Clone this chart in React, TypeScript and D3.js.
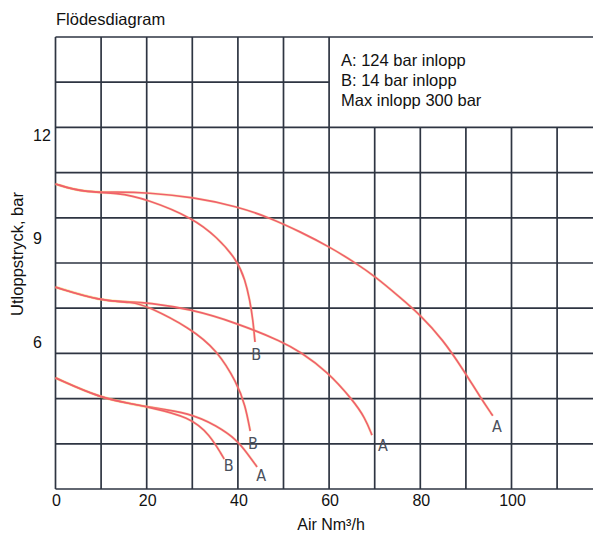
import React from 'react';
import * as d3 from 'd3';

// Flow curves: [air Nm³/h, outlet bar]
const upperA: [number, number][] = [
  [0, 10.58], [6, 10.34], [13.5, 10.35], [20.1, 10.33], [30.2, 10.2], [39.8, 9.93],
  [47, 9.6], [53.6, 9.2], [60.2, 8.75], [65.7, 8.3], [70.1, 7.9], [75.5, 7.3],
  [79.9, 6.8], [85, 6.06], [89.4, 5.2], [93.1, 4.41], [95.9, 3.86],
];
const upperB: [number, number][] = [
  [0, 10.58], [6, 10.34], [13.5, 10.33], [20.1, 10.14], [30.2, 9.59], [35.4, 9.04],
  [39.8, 8.38], [41.6, 7.8], [42.6, 7.22], [43.3, 6.64], [43.75, 6.0],
];
const middleA: [number, number][] = [
  [0, 7.59], [9.8, 7.19], [17, 7.16], [20.1, 7.14], [29.5, 6.96], [39.8, 6.55],
  [49.9, 6.0], [53.6, 5.72], [59.5, 5.16], [65.2, 4.32], [67.9, 3.8], [69.4, 3.3],
];
const middleB: [number, number][] = [
  [0, 7.59], [9.8, 7.19], [17, 7.16], [20.1, 7.04], [29.5, 6.41], [35.4, 5.77],
  [39.8, 4.81], [41.6, 4.17], [42.7, 3.42],
];
const lowerA: [number, number][] = [
  [0, 4.96], [9.8, 4.38], [17, 4.2], [20.1, 4.12], [29.5, 3.94], [35.4, 3.57],
  [39.8, 3.16], [42, 2.78], [44.2, 2.38],
];
const lowerB: [number, number][] = [
  [0, 4.96], [9.8, 4.38], [17, 4.2], [20.1, 4.12], [29.5, 3.83], [33.9, 3.3],
  [36.5, 2.72], [37, 2.61],
];

const curves = [
  { name: 'A', points: upperA, label: [96.8, 3.54] },
  { name: 'B', points: upperB, label: [44.0, 5.65] },
  { name: 'A', points: middleA, label: [71.8, 3.01] },
  { name: 'B', points: middleB, label: [43.3, 3.07] },
  { name: 'A', points: lowerA, label: [45.1, 2.12] },
  { name: 'B', points: lowerB, label: [38.0, 2.41] },
];

const xTicks = [0, 20, 40, 60, 80, 100];
const yTicks = [12, 9, 6];
const legendLines = ['A: 124 bar inlopp', 'B: 14 bar inlopp', 'Max inlopp 300 bar'];

const width = 593;
const height = 534;
const font = 'Liberation Sans, Arial, sans-serif';
const gridColor = '#2e3542';
const curveColor = '#f0606c';

export default function App() {
  const x = d3.scaleLinear().domain([0, 100]).range([55.5, 511.5]);
  // axis labels on the original sit on their own scale, not on the grid rows
  const y = d3.scaleLinear().domain([6, 12]).range([342, 135]);
  const row = d3.scaleLinear().domain([0, 10]).range([489, 37]);

  const line = d3.line<[number, number]>()
    .x(d => x(d[0]))
    .y(d => y(d[1]))
    .curve(d3.curveBasis);

  const colValues = d3.range(0, 111, 10);
  const rowValues = d3.range(0, 11);
  const boxLeft = x(60);

  return (
    <div style={{ position: 'absolute', left: 0, top: 0 }}>
      <svg width={width} height={height} style={{ display: 'block', background: '#fff' }}>
        <text x={56} y={25} fontFamily={font} fontSize={16.5} fill="#111">Flödesdiagram</text>

        {/* grid, with the legend box cut out of the top right */}
        <g stroke={gridColor} strokeWidth={1.7}>
          {colValues.map(v => (
            <line key={'c' + v} x1={x(v)} x2={x(v)}
              y1={v > 60 ? row(8) : row(10)} y2={row(0)} />
          ))}
          {rowValues.map(r => (
            <line key={'r' + r} x1={x(0)} x2={r === 9 ? boxLeft : width}
              y1={row(r)} y2={row(r)} />
          ))}
        </g>

        {/* legend */}
        {legendLines.map((t, i) => (
          <text key={t} x={341} y={66 + i * 20} fontFamily={font} fontSize={16.5} fill="#111">{t}</text>
        ))}

        {/* curves */}
        {curves.map((c, i) => (
          <g key={i}>
            <path d={line(c.points) || ''} fill="none" stroke="#f5d36a" strokeWidth={2.8} strokeOpacity={0.35} />
            <path d={line(c.points) || ''} fill="none" stroke={curveColor} strokeWidth={1.7} />
            <text x={x(c.label[0])} y={y(c.label[1])} textAnchor="middle" dominantBaseline="central"
              fontFamily="'Liberation Sans Narrow', 'DejaVu Sans Condensed', sans-serif"
              fontSize={16} fill="#4a505c">{c.name}</text>
          </g>
        ))}

        {/* axes labels */}
        {xTicks.map(v => (
          <text key={v} x={x(v) + 1} y={506} textAnchor="middle" fontFamily={font} fontSize={16} fill="#111">{v}</text>
        ))}
        {yTicks.map(v => (
          <text key={v} x={33} y={y(v)} dominantBaseline="central" fontFamily={font} fontSize={16} fill="#111">{v}</text>
        ))}
        <text x={331} y={530} textAnchor="middle" fontFamily={font} fontSize={16} fill="#111">Air Nm³/h</text>
        <text transform="translate(23,254) rotate(-90)" textAnchor="middle" fontFamily={font} fontSize={16.5} fill="#111">
          Utloppstryck, bar
        </text>
      </svg>
    </div>
  );
}
